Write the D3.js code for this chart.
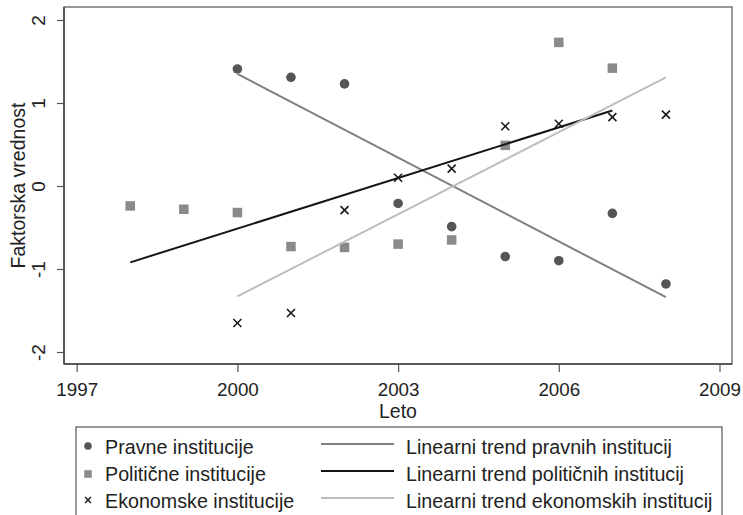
<!DOCTYPE html>
<html>
<head>
<meta charset="utf-8">
<script src="https://cdn.jsdelivr.net/npm/d3@7"></script>
<style>
  html, body { margin: 0; padding: 0; background: #fff; }
  svg { display: block; font-family: "Liberation Sans", Arial, sans-serif; }
</style>
</head>
<body>
<svg id="chart" width="743" height="515"></svg>
<script>
// ---- data ----
const pravneYears = [2000, 2001, 2002, 2003, 2004, 2005, 2006, 2007, 2008];
const pravneValues = [1.41, 1.31, 1.23, -0.21, -0.49, -0.85, -0.90, -0.33, -1.18];

const politicneYears = [1998, 1999, 2000, 2001, 2002, 2003, 2004, 2005, 2006, 2007];
const politicneValues = [-0.24, -0.28, -0.32, -0.73, -0.74, -0.70, -0.65, 0.49, 1.73, 1.42];

const ekonomskeYears = [2000, 2001, 2002, 2003, 2004, 2005, 2006, 2007, 2008];
const ekonomskeValues = [-1.65, -1.53, -0.29, 0.10, 0.21, 0.72, 0.75, 0.83, 0.86];

// linear trend endpoints
const trendPravneYears = [2000, 2008];
const trendPravneValues = [1.35, -1.34];
const trendPoliticneYears = [1998, 2007];
const trendPoliticneValues = [-0.92, 0.91];
const trendEkonomskeYears = [2000, 2008];
const trendEkonomskeValues = [-1.33, 1.31];

const xTicks = [1997, 2000, 2003, 2006, 2009];
const yTicks = [-2, -1, 0, 1, 2];

const xTitle = "Leto";
const yTitle = "Faktorska vrednost";
const legendMarkers = ["Pravne institucije", "Politične institucije", "Ekonomske institucije"];
const legendLines = ["Linearni trend pravnih institucij", "Linearni trend političnih institucij", "Linearni trend ekonomskih institucij"];

// ---- layout ----
const svg = d3.select("#chart");
const frame = { left: 64, top: 7, right: 732, bottom: 364 };

const x = d3.scaleLinear().domain([1997, 2009]).range([76.7, 719.5]);
const y = d3.scaleLinear().domain([-2, 2]).range([352, 20]);

const cDark = "#555555", cSquare = "#8a8a8a", cX = "#1a1a1a";
const cTrendP = "#808080", cTrendPol = "#151515", cTrendE = "#bdbdbd";

// plot region frame
svg.append("rect")
  .attr("x", frame.left).attr("y", frame.top)
  .attr("width", frame.right - frame.left).attr("height", frame.bottom - frame.top)
  .attr("fill", "#fff").attr("stroke", "#777").attr("stroke-width", 1.5);

// axes
const yAxis = svg.append("g").attr("transform", `translate(${frame.left},0)`)
  .call(d3.axisLeft(y).tickValues(yTicks).tickSize(7).tickFormat(d => String(d)));
yAxis.select(".domain").remove();
yAxis.selectAll(".tick line").attr("stroke", "#555").attr("stroke-width", 1.2);
yAxis.selectAll(".tick text")
  .attr("x", 0).attr("y", -19).attr("dy", 0)
  .attr("transform", "rotate(-90)")
  .attr("text-anchor", "middle")
  .attr("font-size", 19).attr("fill", "#222")
  .style("font-family", "Liberation Sans, Arial, sans-serif");

const xAxis = svg.append("g").attr("transform", `translate(0,${frame.bottom})`)
  .call(d3.axisBottom(x).tickValues(xTicks).tickSize(8).tickFormat(d => String(d)));
xAxis.select(".domain").remove();
xAxis.selectAll(".tick line").attr("stroke", "#555").attr("stroke-width", 1.2);
xAxis.selectAll(".tick text")
  .attr("y", 32).attr("dy", 0)
  .attr("font-size", 18.8).attr("fill", "#222")
  .style("font-family", "Liberation Sans, Arial, sans-serif");

// axis lines (darker)
svg.append("line").attr("x1", frame.left).attr("x2", frame.left)
  .attr("y1", frame.top).attr("y2", frame.bottom).attr("stroke", "#444").attr("stroke-width", 1.5);
svg.append("line").attr("x1", frame.left).attr("x2", frame.right)
  .attr("y1", frame.bottom).attr("y2", frame.bottom).attr("stroke", "#444").attr("stroke-width", 1.5);

// titles
svg.append("text").attr("x", (frame.left + frame.right) / 2).attr("y", 418)
  .attr("text-anchor", "middle").attr("font-size", 19.5).attr("fill", "#222").text(xTitle);
svg.append("text").attr("transform", `translate(25,${(frame.top + frame.bottom) / 2}) rotate(-90)`)
  .attr("text-anchor", "middle").attr("font-size", 19.5).attr("fill", "#222").text(yTitle);

// markers
const plot = svg.append("g");
const zip = (xs, ys) => xs.map((d, i) => ({ x: d, y: ys[i] }));

plot.selectAll("circle.pravne").data(zip(pravneYears, pravneValues)).join("circle")
  .attr("class", "pravne")
  .attr("cx", d => x(d.x)).attr("cy", d => y(d.y)).attr("r", 4.8).attr("fill", cDark);

const sq = 9.5;
plot.selectAll("rect.pol").data(zip(politicneYears, politicneValues)).join("rect")
  .attr("class", "pol")
  .attr("x", d => x(d.x) - sq / 2).attr("y", d => y(d.y) - sq / 2)
  .attr("width", sq).attr("height", sq).attr("fill", cSquare);

const xs = 4;
const xMarks = plot.selectAll("g.eko").data(zip(ekonomskeYears, ekonomskeValues)).join("g")
  .attr("class", "eko")
  .attr("transform", d => `translate(${x(d.x)},${y(d.y)})`);
xMarks.append("line").attr("x1", -xs).attr("y1", -xs).attr("x2", xs).attr("y2", xs)
  .attr("stroke", cX).attr("stroke-width", 1.6);
xMarks.append("line").attr("x1", -xs).attr("y1", xs).attr("x2", xs).attr("y2", -xs)
  .attr("stroke", cX).attr("stroke-width", 1.6);

// trend lines
const line = d3.line().x(d => x(d.x)).y(d => y(d.y));
plot.append("path").datum(zip(trendPravneYears, trendPravneValues))
  .attr("d", line).attr("fill", "none").attr("stroke", cTrendP).attr("stroke-width", 2);
plot.append("path").datum(zip(trendPoliticneYears, trendPoliticneValues))
  .attr("d", line).attr("fill", "none").attr("stroke", cTrendPol).attr("stroke-width", 2);
plot.append("path").datum(zip(trendEkonomskeYears, trendEkonomskeValues))
  .attr("d", line).attr("fill", "none").attr("stroke", cTrendE).attr("stroke-width", 2);

// legend
const lg = svg.append("g");
lg.append("rect").attr("x", 76).attr("y", 427).attr("width", 646).attr("height", 120)
  .attr("fill", "#fff").attr("stroke", "#555").attr("stroke-width", 1.2);

const rowBase = [454, 481, 508];
const rowMid = rowBase.map(b => b - 7);

// marker legend
lg.append("circle").attr("cx", 88).attr("cy", rowMid[0] - 1).attr("r", 3.8).attr("fill", cDark);
lg.append("rect").attr("x", 88 - 3.8).attr("y", rowMid[1] - 3.8).attr("width", 7.6).attr("height", 7.6).attr("fill", cSquare);
const lx = 3;
lg.append("line").attr("x1", 88 - lx).attr("y1", rowMid[2] - 1 - lx).attr("x2", 88 + lx).attr("y2", rowMid[2] - 1 + lx)
  .attr("stroke", cX).attr("stroke-width", 1.4);
lg.append("line").attr("x1", 88 - lx).attr("y1", rowMid[2] - 1 + lx).attr("x2", 88 + lx).attr("y2", rowMid[2] - 1 - lx)
  .attr("stroke", cX).attr("stroke-width", 1.4);

legendMarkers.forEach((t, i) => {
  lg.append("text").attr("x", 105).attr("y", rowBase[i]).attr("font-size", 19.7).attr("fill", "#222").text(t);
});

const lineColors = [cTrendP, cTrendPol, cTrendE];
legendLines.forEach((t, i) => {
  lg.append("line").attr("x1", 321).attr("x2", 394).attr("y1", rowMid[i] - 3).attr("y2", rowMid[i] - 3)
    .attr("stroke", lineColors[i]).attr("stroke-width", 2);
  lg.append("text").attr("x", 406).attr("y", rowBase[i]).attr("font-size", 19.7).attr("fill", "#222").text(t);
});
</script>
</body>
</html>
